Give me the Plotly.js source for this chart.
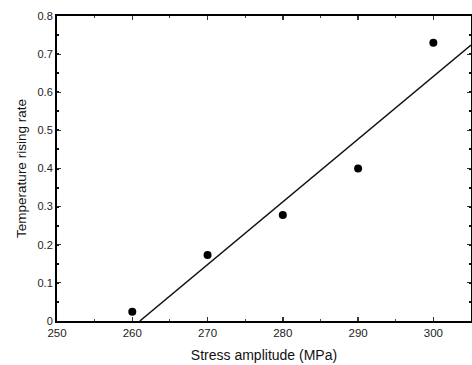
<!DOCTYPE html>
<html><head><meta charset="utf-8">
<script src="https://cdn.plot.ly/plotly-3.0.1.min.js"></script>
<style>body{margin:0;padding:0;background:#fff}#chart{width:472px;height:365px}</style>
</head><body><div id="chart"></div>
<script>
const stress = [260, 270, 280, 290, 300];
const riseRate = [0.024, 0.173, 0.278, 0.40, 0.73];
const fitX = [261, 305];
const fitY = [0, 0.724];
const xTicks = [250, 260, 270, 280, 290, 300];
const yTicks = [0, 0.1, 0.2, 0.3, 0.4, 0.5, 0.6, 0.7, 0.8];
const yTickText = ['0', '0.1', '0.2', '0.3', '0.4', '0.5', '0.6', '0.7', '0.8'];

const traces = [
  {x: fitX, y: fitY, mode: 'lines', line: {color: '#111', width: 1.5}, hoverinfo: 'skip', cliponaxis: false},
  {x: stress, y: riseRate, mode: 'markers', marker: {color: '#000', size: 8}, cliponaxis: false}
];
const fam = 'Liberation Sans, Arial, sans-serif';
const layout = {
  width: 472, height: 365,
  margin: {l: 57, r: 1, t: 16, b: 44},
  showlegend: false,
  paper_bgcolor: '#fff', plot_bgcolor: '#fff',
  font: {family: fam, color: '#222'},
  xaxis: {
    range: [250, 305], tickvals: xTicks, ticktext: xTicks.map(String),
    ticks: 'inside', ticklen: 4, tickwidth: 1.5, tickcolor: '#333',
    minor: {dtick: 5, ticklen: 2, tickwidth: 1, tickcolor: '#444', ticks: 'inside', showgrid: false},
    showline: true, linewidth: 2, linecolor: '#000', mirror: 'ticks',
    showgrid: false, zeroline: false,
    tickfont: {size: 11.5, color: '#222', family: fam},
    title: {text: 'Stress amplitude (MPa)', font: {size: 14, color: '#111', family: fam}, standoff: 12}
  },
  yaxis: {
    range: [0, 0.8], tickvals: yTicks, ticktext: yTickText,
    ticks: 'inside', ticklen: 4, tickwidth: 1, tickcolor: '#333',
    minor: {dtick: 0.05, ticklen: 2, tickwidth: 2, tickcolor: '#111', ticks: 'inside', showgrid: false},
    showline: true, linewidth: 2, linecolor: '#000', mirror: 'ticks',
    showgrid: false, zeroline: false,
    tickfont: {size: 11, color: '#222', family: fam},
    title: {text: 'Temperature rising rate', font: {size: 13.5, color: '#111', family: fam}, standoff: 8}
  }
};
Plotly.newPlot('chart', traces, layout, {displayModeBar: false, staticPlot: true});
</script></body></html>
